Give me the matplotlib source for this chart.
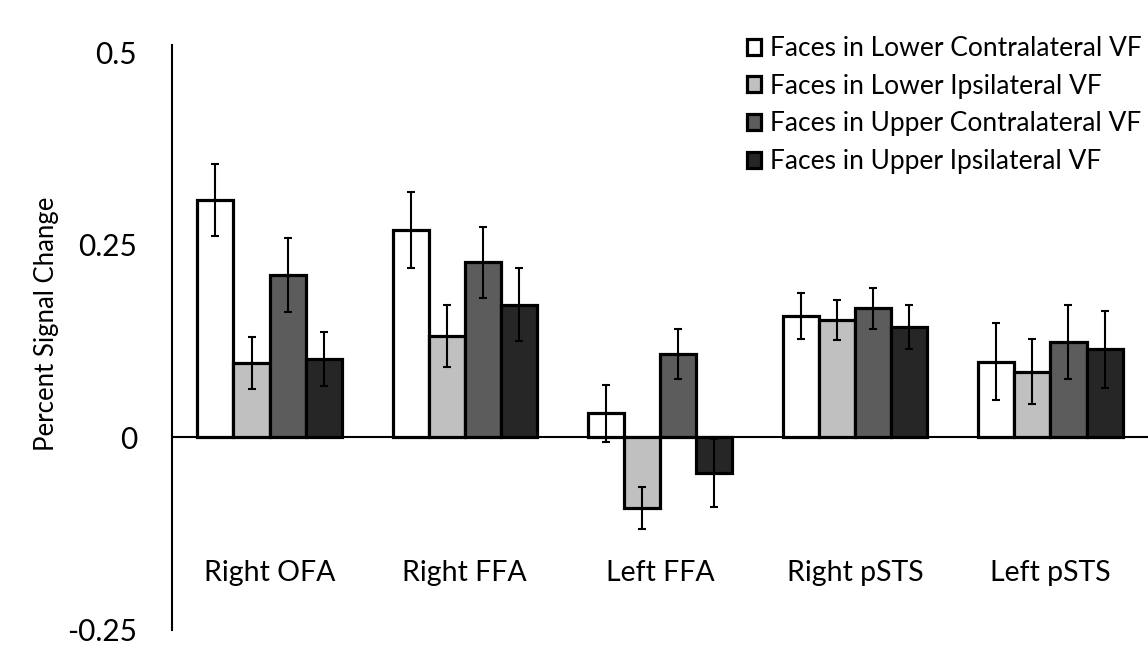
import matplotlib.pyplot as plt
import numpy as np

plt.rcParams['font.family'] = ['Lato', 'DejaVu Sans']

# Data
regions = ['Right OFA', 'Right FFA', 'Left FFA', 'Right pSTS', 'Left pSTS']
conditions = ['Faces in Lower Contralateral VF', 'Faces in Lower Ipsilateral VF',
              'Faces in Upper Contralateral VF', 'Faces in Upper Ipsilateral VF']
lower_contra = [0.308, 0.269, 0.031, 0.157, 0.098]
lower_ipsi = [0.096, 0.131, -0.092, 0.152, 0.085]
upper_contra = [0.211, 0.227, 0.108, 0.167, 0.124]
upper_ipsi = [0.101, 0.172, -0.047, 0.143, 0.114]
lower_contra_err = [0.047, 0.049, 0.037, 0.030, 0.050]
lower_ipsi_err = [0.034, 0.040, 0.027, 0.026, 0.042]
upper_contra_err = [0.048, 0.046, 0.032, 0.027, 0.048]
upper_ipsi_err = [0.035, 0.047, 0.044, 0.029, 0.050]

series = [lower_contra, lower_ipsi, upper_contra, upper_ipsi]
errors = [lower_contra_err, lower_ipsi_err, upper_contra_err, upper_ipsi_err]
colors = ['#ffffff', '#c0c0c0', '#5c5c5c', '#262626']

fig = plt.figure(figsize=(11.48, 6.5), dpi=100)
ax = fig.add_axes([0.1498, 0.0315, 0.8502, 0.899])

x = np.arange(len(regions))
width = 0.185
handles = []
for i, (vals, errs, c, lab) in enumerate(zip(series, errors, colors, conditions)):
    pos = x + (i - 1.5) * width
    b = ax.bar(pos, vals, width, color=c, edgecolor='black', linewidth=2.3,
               label=lab, zorder=2)
    ax.errorbar(pos, vals, yerr=errs, fmt='none', ecolor='black',
                elinewidth=1.5, capsize=2.8, capthick=1.5, zorder=3)
    handles.append(b)

ax.axhline(0, color='black', linewidth=1.5, zorder=1)

ax.set_xlim(-0.5, 4.5)
ax.set_ylim(-0.25, 0.509)
ax.set_yticks([-0.25, 0, 0.25, 0.5])
ax.set_yticklabels(['-0.25', '0', '0.25', '0.5'], fontsize=21.5)
ax.tick_params(axis='y', length=0, pad=25)
ax.set_xticks([])

for s in ['top', 'right', 'bottom']:
    ax.spines[s].set_visible(False)
ax.spines['left'].set_linewidth(1.5)

for xi, name in zip(x, regions):
    ax.text(xi, -0.177, name, ha='center', va='center', fontsize=20.5)

ax.set_ylabel('Percent Signal Change', fontsize=18.5)
ax.yaxis.set_label_coords(-0.116, 0.523)

fig.legend(handles=handles, labels=conditions, loc='upper right',
           bbox_to_anchor=(1142 / 1148, 1 - 36 / 650), frameon=False,
           fontsize=19, handlelength=0.55, handleheight=0.55,
           handletextpad=0.35, labelspacing=0.48, borderaxespad=0,
           borderpad=0)

plt.savefig('out.png', dpi=100)
